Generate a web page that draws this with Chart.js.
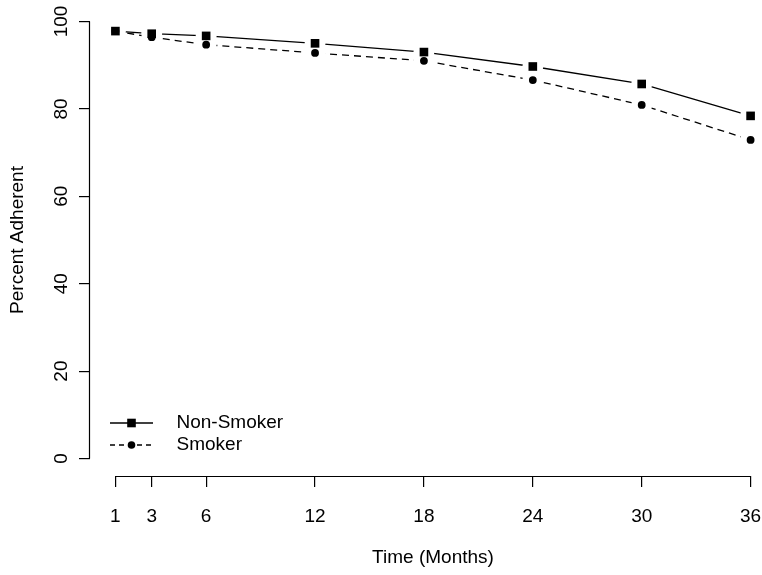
<!DOCTYPE html>
<html>
<head>
<meta charset="utf-8">
<title>Percent Adherent by Smoking Status</title>
<script src="https://cdn.jsdelivr.net/npm/chart.js@4.4.1/dist/chart.umd.min.js"></script>
<style>
  html, body { margin: 0; padding: 0; background: #ffffff; overflow: hidden; }
  /* the plot region runs a little past the right edge, as in the original R figure */
  #wrap { width: 762px; height: 575px; overflow: hidden; }
</style>
</head>
<body>
<div id="wrap"><canvas id="adherenceChart" width="776" height="575"></canvas></div>
<script>
var months = [1, 3, 6, 12, 18, 24, 30, 36]
var nonSmoker = [97.8, 97.2, 96.7, 95.0, 93.0, 89.7, 85.7, 78.4]
var smoker = [97.8, 96.4, 94.7, 92.8, 91.0, 86.6, 80.9, 72.9]
var yTicks = [0, 20, 40, 60, 80, 100]
var seriesNames = ['Non-Smoker', 'Smoker']

document.addEventListener('DOMContentLoaded', function () {
  var FONT = '"Liberation Sans", Arial, Helvetica, sans-serif'
  Chart.defaults.font.family = FONT
  Chart.defaults.font.size = 19
  Chart.defaults.color = '#000000'

  function toPoints (vals) {
    return months.map(function (m, i) { return { x: m, y: vals[i] } })
  }

  // little line+marker pictures for the legend, like R's legend(lty, pch)
  function legendSymbol (marker, dash) {
    var c = document.createElement('canvas')
    c.width = 57
    c.height = 14
    var g = c.getContext('2d')
    g.strokeStyle = '#000'
    g.lineWidth = 1.3
    g.setLineDash(dash)
    g.beginPath(); g.moveTo(0, 7); g.lineTo(43, 7); g.stroke()
    g.fillStyle = '#000'
    if (marker === 'rect') {
      g.fillRect(21.5 - 4.3, 7 - 4.3, 8.6, 8.6)
    } else {
      g.beginPath(); g.arc(21.5, 7, 3.8, 0, Math.PI * 2); g.fill()
    }
    return c
  }
  var symbols = [legendSymbol('rect', []), legendSymbol('circle', [5, 4])]

  // R type="b": lines stop short of each point
  var gapPlugin = {
    id: 'gapPlugin',
    beforeDatasetDraw: function (chart, args) {
      var ds = chart.data.datasets[args.index]
      if (!ds.gapRadius) return
      var ctx = chart.ctx
      var r = ds.gapRadius
      ctx.save()
      ctx.beginPath()
      ctx.rect(0, 0, chart.width, chart.height)
      args.meta.data.forEach(function (p) {
        ctx.moveTo(p.x + r, p.y)
        ctx.arc(p.x, p.y, r, 0, Math.PI * 2)
      })
      ctx.clip('evenodd')
    },
    afterDatasetDraw: function (chart, args) {
      var ds = chart.data.datasets[args.index]
      if (ds.gapRadius) chart.ctx.restore()
    }
  }

  // detached axis lines spanning first..last tick, and legend placement
  var rAxesPlugin = {
    id: 'rAxes',
    afterLayout: function (chart) {
      var lg = chart.legend
      if (lg) {
        lg.left = 107
        lg.bottom = 457.5
      }
    },
    afterDraw: function (chart) {
      var ctx = chart.ctx
      var xs = chart.scales.x
      var ys = chart.scales.y
      var area = chart.chartArea
      ctx.save()
      ctx.strokeStyle = '#000'
      ctx.lineWidth = 1.2
      var yb = Math.round(area.bottom) + 0.5
      ctx.beginPath()
      ctx.moveTo(xs.getPixelForValue(months[0]), yb)
      ctx.lineTo(xs.getPixelForValue(months[months.length - 1]), yb)
      ctx.stroke()
      var xl = Math.round(area.left) - 0.5
      ctx.beginPath()
      ctx.moveTo(xl, ys.getPixelForValue(yTicks[0]))
      ctx.lineTo(xl, ys.getPixelForValue(yTicks[yTicks.length - 1]))
      ctx.stroke()
      ctx.restore()
    }
  }

  var ctx = document.getElementById('adherenceChart')
  var chart = new Chart(ctx, {
    type: 'line',
    data: {
      datasets: [{
        label: seriesNames[0],
        data: toPoints(nonSmoker),
        showLine: false,
        borderWidth: 0,
        pointStyle: 'rect',
        pointRadius: 6.1,
        pointBackgroundColor: '#000',
        pointBorderWidth: 0
      }, {
        label: seriesNames[1],
        data: toPoints(smoker),
        showLine: false,
        borderWidth: 0,
        pointStyle: 'circle',
        pointRadius: 3.9,
        pointBackgroundColor: '#000',
        pointBorderWidth: 0
      }, {
        label: seriesNames[0] + ' line',
        data: toPoints(nonSmoker),
        borderColor: '#000',
        borderWidth: 1.3,
        pointRadius: 0,
        tension: 0,
        gapRadius: 10.5
      }, {
        label: seriesNames[1] + ' line',
        data: toPoints(smoker),
        borderColor: '#000',
        borderWidth: 1.3,
        borderDash: [7, 5],
        pointRadius: 0,
        tension: 0,
        gapRadius: 10.5
      }]
    },
    options: {
      responsive: false,
      animation: false,
      layout: { autoPadding: false, padding: { top: 4, left: 0, right: 0, bottom: 0 } },
      plugins: {
        tooltip: { enabled: false },
        legend: {
          position: 'chartArea',
          align: 'end',
          labels: {
            usePointStyle: true,
            pointStyleWidth: 57,
            padding: 3,
            font: { size: 19 },
            color: '#000',
            generateLabels: function () {
              return seriesNames.map(function (n, i) {
                return { text: n, pointStyle: symbols[i], fillStyle: '#000', strokeStyle: '#000', lineWidth: 0, hidden: false, datasetIndex: i }
              })
            }
          }
        }
      },
      scales: {
        x: {
          type: 'linear',
          bounds: 'data',
          min: -0.4,
          max: 37.4,
          afterBuildTicks: function (scale) {
            scale.ticks = months.map(function (m) { return { value: m } })
          },
          afterFit: function (scale) {
            scale.height = 99
            scale.paddingLeft = 0
            scale.paddingRight = 0
          },
          grid: { display: true, drawOnChartArea: false, drawTicks: true, tickLength: 11, color: '#000', lineWidth: 1.2 },
          border: { display: false },
          ticks: { autoSkip: false, maxRotation: 0, padding: 18, font: { size: 19 }, color: '#000' },
          title: { display: true, text: 'Time (Months)', font: { size: 19 }, color: '#000', padding: { top: 0, bottom: 6 } }
        },
        y: {
          type: 'linear',
          bounds: 'data',
          min: -4,
          max: 104,
          afterBuildTicks: function (scale) {
            scale.ticks = yTicks.map(function (v) { return { value: v } })
          },
          afterFit: function (scale) {
            scale.width = 90
            scale.paddingTop = 0
            scale.paddingBottom = 0
          },
          grid: { display: true, drawOnChartArea: false, drawTicks: true, tickLength: 11, color: '#000', lineWidth: 1.2 },
          border: { display: false },
          ticks: { autoSkip: false, minRotation: 90, maxRotation: 90, crossAlign: 'center', padding: 1, font: { size: 19 }, color: '#000' },
          title: { display: true, text: 'Percent Adherent', font: { size: 19 }, color: '#000', padding: { top: 6, bottom: 0 } }
        }
      }
    },
    plugins: [gapPlugin, rAxesPlugin]
  })
})
</script>
</body>
</html>
